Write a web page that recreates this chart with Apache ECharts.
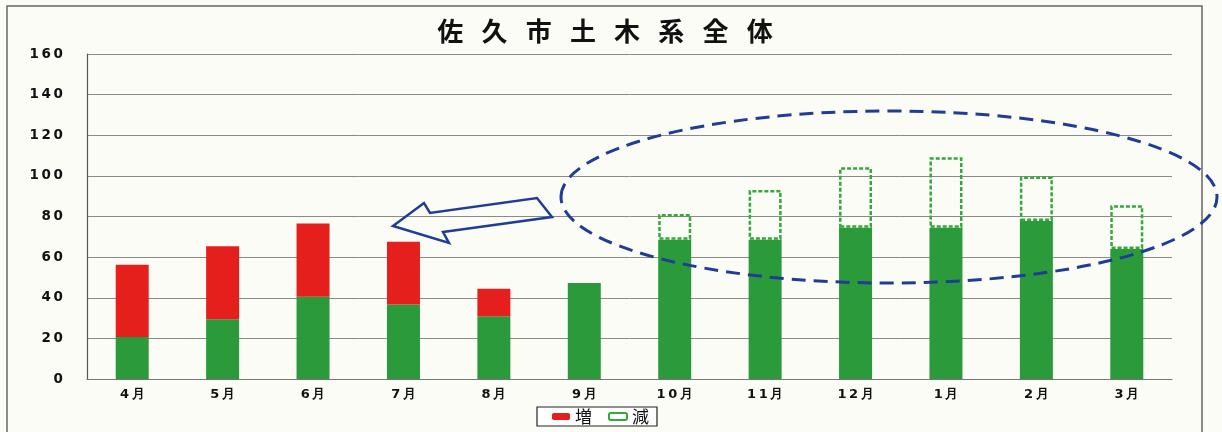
<!DOCTYPE html>
<html>
<head>
<meta charset="utf-8">
<script src="https://cdn.jsdelivr.net/npm/echarts@6/dist/echarts.min.js"></script>
<style>
html,body{margin:0;padding:0;background:#fcfcf7;}
#chart{width:1222px;height:432px;}
</style>
</head>
<body>
<div id="chart"></div>
<script>
const titleText = '佐久市土木系全体';
const categories = ['4月','5月','6月','7月','8月','9月','10月','11月','12月','1月','2月','3月'];
const baseValues = [20.7, 29.4, 40.5, 36.7, 30.9, 47.3, 68.5, 68.5, 74.5, 74.5, 77.8, 64.0];
const increaseValues = [35.6, 35.9, 36.0, 30.9, 13.5, null, null, null, null, null, null, null];
const decreaseValues = [null, null, null, null, null, null, 12.7, 24.6, 29.7, 34.7, 21.9, 21.6];
const yTicks = [0, 20, 40, 60, 80, 100, 120, 140, 160];
const legendNames = ['増', '減'];

const RED = '#e41f1c';
const GREEN = '#2b9a3b';
const BLUE = '#1f3d96';

const chart = echarts.init(document.getElementById('chart'), null, {renderer: 'canvas'});
const spaced = s => String(s).split('').join('\u2009');

chart.setOption({
  backgroundColor: '#fcfcf7',
  animation: false,
  title: {
    text: titleText.split('').join('\u2002\u2009'),
    left: 600, top: 13, textAlign: 'center',
    textStyle: {fontFamily: 'Noto Sans CJK JP', fontWeight: 'bold', fontSize: 26, color: '#111'}
  },
  legend: {
    data: legendNames,
    left: 537, top: 407,
    padding: [1, 8, 1, 15],
    itemGap: 16,
    itemWidth: 18, itemHeight: 7,
    borderColor: '#222', borderWidth: 1.2,
    backgroundColor: '#fff',
    textStyle: {fontFamily: 'Noto Sans CJK JP', fontSize: 17, color: '#111'}
  },
  grid: {left: 87, right: 50, top: 54, bottom: 53, containLabel: false},
  xAxis: {
    type: 'category',
    data: categories,
    axisLine: {lineStyle: {color: '#777', width: 1.2}},
    axisTick: {show: false},
    axisLabel: {
      margin: 9, fontFamily: 'DejaVu Sans', fontWeight: 'bold', fontSize: 13, color: '#111',
      formatter: v => spaced(v)
    }
  },
  yAxis: {
    type: 'value',
    min: yTicks[0], max: yTicks[yTicks.length - 1], interval: 20,
    axisLine: {show: true, lineStyle: {color: '#555', width: 1.2}},
    axisTick: {show: false},
    splitLine: {lineStyle: {color: '#8a8a8a', width: 1}},
    axisLabel: {
      margin: 24, fontFamily: 'DejaVu Sans', fontWeight: 'bold', fontSize: 13.5, color: '#111',
      formatter: v => spaced(v)
    }
  },
  series: [
    {
      name: '基準', type: 'bar', stack: 'total', barWidth: 33,
      data: baseValues,
      itemStyle: {color: GREEN}
    },
    {
      name: '増', type: 'bar', stack: 'total', barWidth: 33,
      data: increaseValues,
      itemStyle: {color: RED}
    },
    {
      name: '減', type: 'bar', stack: 'total', barWidth: 33,
      data: decreaseValues,
      itemStyle: {color: 'rgba(255,255,255,0)', borderColor: '#34a83a', borderWidth: 2.5, borderType: [4, 2]}
    }
  ],
  graphic: [
    {
      type: 'rect', z: 0, silent: true,
      shape: {x: 7, y: 6, width: 1195, height: 440},
      style: {fill: 'none', stroke: '#666', lineWidth: 1.5}
    },
    {
      type: 'ellipse', z: 100, silent: true,
      shape: {cx: 889, cy: 197, rx: 328, ry: 86},
      style: {fill: 'none', stroke: BLUE, lineWidth: 3, lineDash: [14, 8]}
    },
    {
      type: 'polygon', z: 100, silent: true,
      shape: {points: [[393,226],[424,203],[430,213],[537,198],[552,217],[443,232],[449,243]]},
      style: {fill: 'none', stroke: BLUE, lineWidth: 2.5, lineJoin: 'miter'}
    }
  ]
});
</script>
</body>
</html>
